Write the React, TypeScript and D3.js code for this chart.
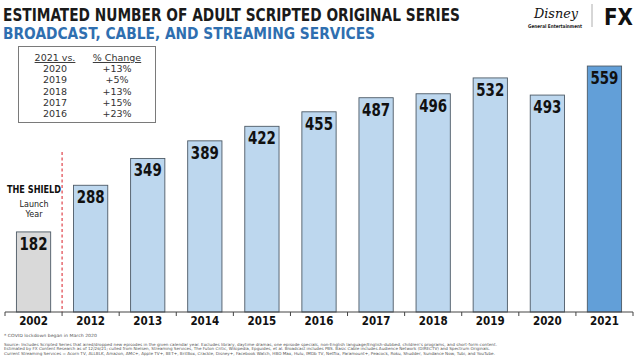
import React from 'react'
import * as d3 from 'd3'

const years = ['2002', '2012', '2013', '2014', '2015', '2016', '2017', '2018', '2019', '2020', '2021']
const seriesCounts = [182, 288, 349, 389, 422, 455, 487, 496, 532, 493, 559]

const compareYears = ['2020', '2019', '2018', '2017', '2016']
const pctChange = ['+13%', '+5%', '+13%', '+15%', '+23%']

const sourceLines = [
  'Source: Includes Scripted Series that aired/dropped new episodes in the given calendar year. Excludes library, daytime dramas, one episode specials, non-English language/English-dubbed, children\u2019s programs, and short-form content.',
  'Estimated by FX Content Research as of 12/26/21; culled from Nielsen, Streaming Services, The Futon Critic, Wikipedia, Epguides, et al. Broadcast includes PBS. Basic Cable includes Audience Network (DIRECTV) and Spectrum Originals.',
  'Current Streaming Services = Acorn TV, ALLBLK, Amazon, AMC+, Apple TV+, BET+, BritBox, Crackle, Disney+, Facebook Watch, HBO Max, Hulu, IMDb TV, Netflix, Paramount+, Peacock, Roku, Shudder, Sundance Now, Tubi, and YouTube.'
]

const W = 640
const H = 359
const axisY = 312
const cond = '"DejaVu Sans Condensed", "DejaVu Sans", sans-serif'

function barFill(i: number) {
  if (i === 0) return '#d9d9d9'
  if (i === years.length - 1) return '#629fd8'
  return '#bdd7ee'
}

export default function App() {
  const x = d3.scaleBand<string>()
    .domain(years)
    .range([5, 633])
    .paddingInner(0.4)
    .paddingOuter(0.2)

  const y = d3.scaleLinear()
    .domain([0, 600])
    .range([axisY, 48])

  const step = x.step()
  const ticks = d3.range(years.length + 1).map(i => 5 + i * step)
  const dividerX = ticks[1]

  return (
    <svg width={W} height={H} style={{ position: 'absolute', left: 0, top: 0, background: '#fff' }}>
      {/* titles */}
      <text x={3} y={21} fontFamily={cond} fontWeight="bold" fontSize={17} fill="#1a1a1a"
        textLength={457} lengthAdjust="spacingAndGlyphs">
        ESTIMATED NUMBER OF ADULT SCRIPTED ORIGINAL SERIES
      </text>
      <text x={3} y={38.5} fontFamily={cond} fontWeight="bold" fontSize={16} fill="#2f6fb0"
        textLength={372} lengthAdjust="spacingAndGlyphs">
        BROADCAST, CABLE, AND STREAMING SERVICES
      </text>

      {/* logos */}
      <text x={556} y={18} textAnchor="middle" fontFamily='"DejaVu Serif", serif' fontStyle="italic"
        fontSize={13} fill="#111" textLength={44} lengthAdjust="spacingAndGlyphs">Disney</text>
      <text x={555} y={28} textAnchor="middle" fontFamily={cond} fontWeight="bold" fontSize={5}
        fill="#222" textLength={54} lengthAdjust="spacingAndGlyphs">General Entertainment</text>
      <line x1={592} x2={592} y1={4} y2={27} stroke="#999" strokeWidth={0.8} />
      <text x={604} y={25} fontFamily='"DejaVu Sans", sans-serif' fontWeight="bold" fontSize={23}
        fill="#111" textLength={29} lengthAdjust="spacingAndGlyphs">FX</text>

      {/* comparison table */}
      <rect x={18.5} y={46.5} width={137} height={76} fill="#fff" stroke="#7a7a7a" strokeWidth={1} />
      <text x={55} y={61} textAnchor="middle" fontFamily='"DejaVu Sans", sans-serif' fontSize={9.5}
        fill="#333" textDecoration="underline">2021 vs.</text>
      <text x={117} y={61} textAnchor="middle" fontFamily='"DejaVu Sans", sans-serif' fontSize={9.5}
        fill="#333" textDecoration="underline">% Change</text>
      {compareYears.map((yr, i) => (
        <g key={yr} fontFamily='"DejaVu Sans", sans-serif' fontSize={9.5} fill="#333">
          <text x={55} y={72 + i * 11.3} textAnchor="middle">{yr}</text>
          <text x={117} y={72 + i * 11.3} textAnchor="middle">{pctChange[i]}</text>
        </g>
      ))}

      {/* bars */}
      {years.map((yr, i) => {
        const v = seriesCounts[i]
        const bx = x(yr) as number
        const top = y(v)
        return (
          <g key={yr}>
            <rect x={bx} y={top} width={x.bandwidth()} height={axisY - top}
              fill={barFill(i)} stroke="#4d5a66" strokeWidth={0.9} />
            <text x={bx + x.bandwidth() / 2} y={top + 18} textAnchor="middle"
              fontFamily={cond} fontWeight="bold" fontSize={17} fill="#111"
              textLength={28} lengthAdjust="spacingAndGlyphs">{v}</text>
          </g>
        )
      })}

      {/* launch-year marker */}
      <line x1={dividerX} x2={dividerX} y1={152} y2={axisY} stroke="#e0434a"
        strokeWidth={1.2} strokeDasharray="3,2.5" />
      <text x={34} y={193} textAnchor="middle" fontFamily={cond} fontWeight="bold" fontSize={10.5}
        fill="#111" textLength={54} lengthAdjust="spacingAndGlyphs">THE SHIELD</text>
      <text x={34} y={207} textAnchor="middle" fontFamily='"DejaVu Sans", sans-serif' fontSize={8}
        fill="#222">Launch</text>
      <text x={34} y={217} textAnchor="middle" fontFamily='"DejaVu Sans", sans-serif' fontSize={8}
        fill="#222">Year</text>

      {/* axis */}
      <line x1={ticks[0]} x2={ticks[ticks.length - 1]} y1={axisY} y2={axisY} stroke="#444" strokeWidth={1} />
      {ticks.map((t, i) => (
        <line key={i} x1={t} x2={t} y1={axisY} y2={axisY + 4} stroke="#444" strokeWidth={1} />
      ))}
      {years.map(yr => (
        <text key={yr} x={(x(yr) as number) + x.bandwidth() / 2} y={325} textAnchor="middle"
          fontFamily={cond} fontWeight="bold" fontSize={11.5} fill="#111">{yr}</text>
      ))}

      {/* footnotes */}
      <text x={4} y={337} fontFamily='"DejaVu Sans", sans-serif' fontSize={4.3} fill="#555"
        textLength={93} lengthAdjust="spacingAndGlyphs">* COVID lockdown began in March 2020</text>
      {sourceLines.map((ln, i) => (
        <text key={i} x={4} y={345.5 + i * 4.8} fontFamily='"DejaVu Sans", sans-serif' fontSize={4.1}
          fill="#555" textLength={[493, 486, 491][i]} lengthAdjust="spacingAndGlyphs">{ln}</text>
      ))}
    </svg>
  )
}
